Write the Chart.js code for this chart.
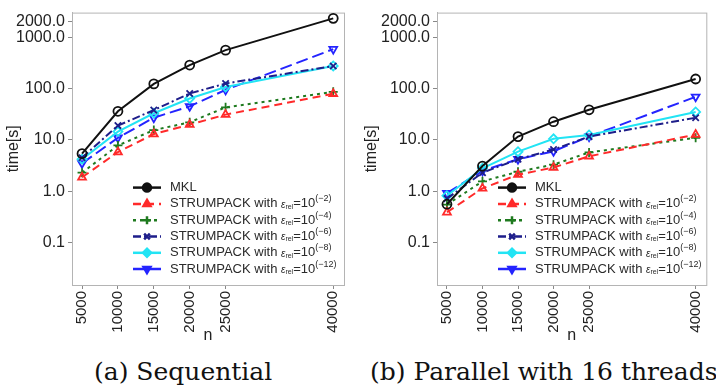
<!DOCTYPE html>
<html>
<head>
<meta charset="utf-8">
<script src="https://cdn.jsdelivr.net/npm/chart.js@4.4.1/dist/chart.umd.min.js"></script>
<style>
  body { margin: 0; background: #fff; width: 716px; height: 389px; overflow: hidden; position: relative; }
  .box { position: absolute; top: 0; width: 358px; height: 345px; }
  .cap { position: absolute; top: 357px; font-family: "DejaVu Serif", serif; font-size: 25px; line-height: 30px; color: #111; white-space: nowrap; }
</style>
</head>
<body>
<div class="box" style="left:0"><canvas id="seq" width="358" height="345"></canvas></div>
<div class="box" style="left:358px"><canvas id="par" width="358" height="345"></canvas></div>
<div class="cap" style="left:94px">(a) Sequential</div>
<div class="cap" style="left:370px">(b) Parallel with 16 threads</div>
<script>
const nValues = [5000, 10000, 15000, 20000, 25000, 40000];
const xTicks = [5000, 10000, 15000, 20000, 25000, 40000];
const yTicks = [0.1, 1, 10, 100, 1000, 2000];
const legendExp = ['-2', '-4', '-6', '-8', '-12'];

// (a) sequential
const seqMKL   = [5.4, 36, 123, 286, 558, 2320];
const seqEps2  = [1.87, 5.8, 13, 19.8, 31, 79];
const seqEps4  = [2.3, 7.8, 15.5, 22, 43, 86];
const seqEps6  = [4.5, 19, 38, 80, 125, 274];
const seqEps8  = [4.2, 14.5, 33, 64, 107, 275];
const seqEps12 = [3.5, 11, 27, 45, 94, 583];

// (b) parallel, 16 threads
const parMKL   = [0.56, 3.1, 11.6, 22.6, 38.5, 153];
const parEps2  = [0.39, 1.14, 2.1, 2.9, 4.8, 12.7];
const parEps4  = [0.55, 1.56, 2.4, 3.3, 5.7, 11];
const parEps6  = [0.72, 2.3, 4.2, 6.5, 11.6, 27];
const parEps8  = [0.82, 2.8, 5.9, 10.5, 12.5, 35];
const parEps12 = [0.92, 2.5, 4.2, 6.0, 11.6, 69];

const styles = [
    { color: '#111111', dash: [], point: 'circle', rot: 0 },
    { color: '#ff2a2a', dash: [8, 5], point: 'triangle', rot: 0 },
    { color: '#1f7a1f', dash: [3, 4], point: 'cross', rot: 0 },
    { color: '#1e1e8a', dash: [8, 3, 2, 3], point: 'crossRot', rot: 0 },
    { color: '#22e4f4', dash: [], point: 'rectRot', rot: 0 },
    { color: '#2424ff', dash: [12, 5], point: 'triangle', rot: 180 }
];

function makeDatasets(series) {
    return series.map((vals, i) => ({
        label: i === 0 ? 'MKL' : 'STRUMPACK with eps_rel=10^(' + legendExp[i - 1] + ')',
        data: vals.map((v, j) => ({ x: nValues[j], y: v })),
        borderColor: styles[i].color,
        backgroundColor: 'rgba(255,255,255,0)',
        borderDash: styles[i].dash,
        borderWidth: 2,
        pointStyle: styles[i].point,
        pointRotation: styles[i].rot,
        pointRadius: 4.5,
        pointBorderWidth: 1.8,
        tension: 0
    }));
}

const framePlugin = {
    id: 'frame',
    beforeDatasetsDraw(chart) {
        const a = chart.chartArea, ctx = chart.ctx;
        ctx.save();
        ctx.strokeStyle = '#b4b4b4';
        ctx.lineWidth = 1;
        ctx.strokeRect(a.left + 0.5, a.top + 0.5, a.right - a.left, a.bottom - a.top);
        ctx.restore();
    }
};

function drawParts(ctx, x, y, parts) {
    parts.forEach(p => {
        ctx.font = (p.italic ? 'italic ' : '') + p.size + 'px "Liberation Sans", sans-serif';
        ctx.fillText(p.t, x, y + (p.dy || 0));
        x += ctx.measureText(p.t).width;
    });
}

const legendPlugin = {
    id: 'rlegend',
    afterDatasetsDraw(chart) {
        const a = chart.chartArea, ctx = chart.ctx;
        const x0 = a.left + 61, y0 = a.top + 175, step = 16.3;
        chart.data.datasets.forEach((ds, i) => {
            const y = y0 + i * step;
            ctx.save();
            ctx.strokeStyle = ds.borderColor;
            ctx.lineWidth = 2.5;
            ctx.setLineDash(ds.borderDash);
            ctx.beginPath();
            ctx.moveTo(x0, y);
            ctx.lineTo(x0 + 28, y);
            ctx.stroke();
            ctx.setLineDash([]);
            Chart.helpers.drawPoint(ctx, {
                pointStyle: ds.pointStyle, rotation: ds.pointRotation, radius: 4,
                borderWidth: 2
            }, x0 + 14, y);
            ctx.fillStyle = ds.borderColor;
            ctx.fill();
            ctx.restore();
            ctx.save();
            ctx.fillStyle = '#2a2a2a';
            ctx.textBaseline = 'middle';
            if (i === 0) {
                drawParts(ctx, x0 + 37, y, [{ t: 'MKL', size: 13 }]);
            } else {
                drawParts(ctx, x0 + 37, y, [
                    { t: 'STRUMPACK with ', size: 13 },
                    { t: '\u03b5', size: 10, italic: true, dy: 1 },
                    { t: 'rel', size: 7, dy: 3 },
                    { t: '=10', size: 13 },
                    { t: '(\u2212' + legendExp[i - 1].slice(1) + ')', size: 9, dy: -5 }
                ]);
            }
            ctx.restore();
        });
    }
};

function makeChart(id, series, yWidth, padRight) {
    return new Chart(document.getElementById(id), {
        type: 'line',
        data: { datasets: makeDatasets(series) },
        plugins: [framePlugin, legendPlugin],
        options: {
            responsive: false,
            devicePixelRatio: 1,
            animation: false,
            layout: { padding: { top: 12, right: padRight, left: 0, bottom: 0 } },
            plugins: { legend: { display: false }, tooltip: { enabled: false } },
            scales: {
                x: {
                    type: 'linear',
                    min: 3600,
                    max: 41500,
                    afterBuildTicks: s => { s.ticks = xTicks.map(v => ({ value: v })); },
                    afterFit: s => { s.height = 60; },
                    ticks: {
                        autoSkip: false, minRotation: 90, maxRotation: 90, padding: 2,
                        color: '#222', font: { family: 'Liberation Sans', size: 15 },
                        callback: v => String(v)
                    },
                    grid: { drawOnChartArea: false, tickLength: 4, color: '#888' },
                    border: { color: '#b4b4b4' },
                    title: {
                        display: true, text: 'n', color: '#222', padding: 0,
                        font: { family: 'Liberation Sans', size: 16 }
                    }
                },
                y: {
                    type: 'logarithmic',
                    min: 0.015,
                    max: 3000,
                    afterBuildTicks: s => { s.ticks = yTicks.map(v => ({ value: v })); },
                    afterFit: s => { s.width = yWidth; },
                    ticks: {
                        autoSkip: false, padding: 3, color: '#222',
                        font: { family: 'Liberation Sans', size: 16 },
                        callback: v => Number(v).toFixed(1)
                    },
                    grid: { drawOnChartArea: false, tickLength: 4, color: '#888' },
                    border: { color: '#b4b4b4' },
                    title: {
                        display: true, text: 'time[s]', color: '#222', padding: { top: 4, bottom: 0 },
                        font: { family: 'Liberation Sans', size: 16 }
                    }
                }
            }
        }
    });
}

makeChart('seq', [seqMKL, seqEps2, seqEps4, seqEps6, seqEps8, seqEps12], 72, 14);
makeChart('par', [parMKL, parEps2, parEps4, parEps6, parEps8, parEps12], 79, 9);
</script>
</body>
</html>
